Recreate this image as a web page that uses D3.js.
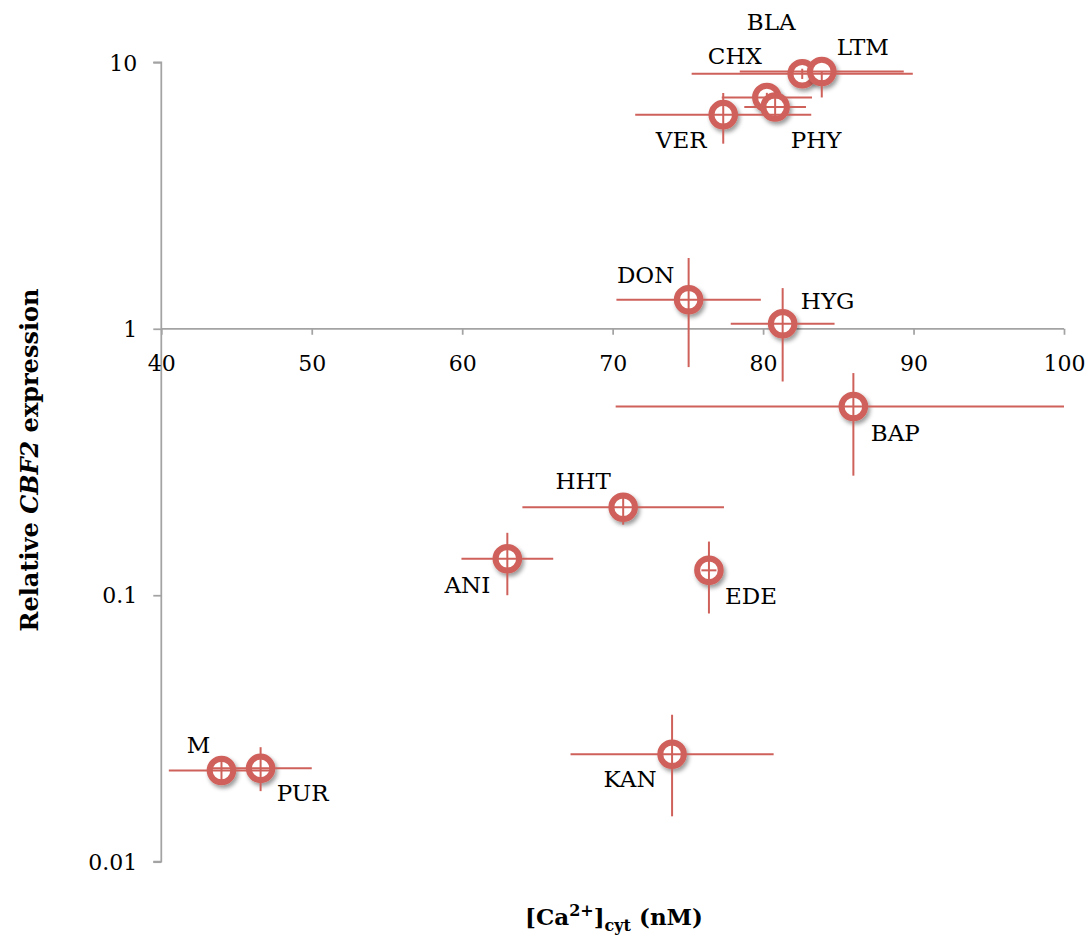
<!DOCTYPE html>
<html>
<head>
<meta charset="utf-8">
<script src="https://cdn.jsdelivr.net/npm/d3@7/dist/d3.min.js"></script>
<style>
  html, body { margin: 0; padding: 0; background: #fff; }
  svg { display: block; }
  text { font-family: "DejaVu Serif", "Liberation Serif", serif; fill: #000; }
</style>
</head>
<body>
<svg id="chart" width="1090" height="938"></svg>
<script>
// Treatments and their measurements
const treatments = ["M", "PUR", "KAN", "ANI", "HHT", "EDE", "BAP", "DON", "HYG", "VER", "CHX", "PHY", "BLA", "LTM"];
// cytosolic calcium (nM) and its error
const calcium    = [44.0, 46.6, 73.95, 63.0, 70.7, 76.4, 86.0, 75.05, 81.3, 77.35, 80.25, 80.8, 82.6, 83.9];
const calciumErr = [3.5, 3.4, 6.75, 3.05, 6.7, 0.5, 15.8, 4.8, 3.45, 5.85, 3.0, 2.05, 7.35, 5.45];
// relative CBF2 expression and its error (upper / lower)
const expression       = [0.0220, 0.0224, 0.0253, 0.137, 0.214, 0.124, 0.511, 1.285, 1.044, 6.36, 7.38, 6.80, 9.06, 9.24];
const expressionErrUp  = [0.002, 0.0045, 0.0103, 0.0345, 0.025, 0.035, 0.171, 0.558, 0.377, 1.31, 0.3, 0.54, 0.4, 0];
const expressionErrLow = [0.002, 0.004, 0.0105, 0.037, 0.03, 0.0386, 0.230, 0.567, 0.41, 1.41, 0.3, 0.54, 0.4, 1.86];

// axis ticks
const xTicks = [40, 50, 60, 70, 80, 90, 100];
const yTicks = [0.01, 0.1, 1, 10];
const yTickLabels = ["0.01", "0.1", "1", "10"];

// label placement relative to each point (px)
const labelOffsets = {
  M: [-23, -26], PUR: [42, 25], KAN: [-42, 25], ANI: [-40, 26], HHT: [-40, -26],
  EDE: [42, 26], BAP: [42, 26], DON: [-43, -25], HYG: [45, -23], VER: [-42, 25],
  CHX: [-32, -42], PHY: [41, 33], BLA: [-31, -52], LTM: [41, -24]
};

const points = treatments.map((t, i) => ({
  name: t,
  x: calcium[i], xe: calciumErr[i],
  y: expression[i], yUp: expressionErrUp[i], yLow: expressionErrLow[i]
}));

const svg = d3.select("#chart");
const plotLeft = 161.3, plotRight = 1064, plotTop = 62.3, plotBottom = 861.7;

const x = d3.scaleLinear().domain([40, 100]).range([plotLeft, plotRight]);
const y = d3.scaleLog().domain([0.01, 10]).range([plotBottom, plotTop]);

const axisColor = "#a3a3a3";
const markColor = "#cf615b";

// drop shadow for the markers
const defs = svg.append("defs");
const f = defs.append("filter").attr("id", "shadow")
  .attr("x", "-50%").attr("y", "-50%").attr("width", "200%").attr("height", "200%");
f.append("feDropShadow").attr("dx", 2).attr("dy", 3).attr("stdDeviation", 2.2)
  .attr("flood-color", "#000").attr("flood-opacity", 0.4);

// y axis
const yAxis = svg.append("g").attr("transform", `translate(${plotLeft},0)`)
  .call(d3.axisLeft(y).tickValues(yTicks).tickSize(8)
    .tickFormat((d, i) => yTickLabels[i]));
yAxis.select(".domain").attr("stroke", axisColor).attr("stroke-width", 1.75)
  .attr("d", `M-8,${plotTop}H0V${plotBottom}H-8`);
yAxis.selectAll(".tick line").attr("stroke", axisColor).attr("stroke-width", 1.75);
yAxis.selectAll(".tick text").attr("x", -24).attr("dy", "0.35em")
  .style("font-family", "DejaVu Serif, serif").style("font-size", "22px").attr("fill", "#000");

// x axis crossing at expression = 1
const xAxis = svg.append("g").attr("transform", `translate(0,${y(1)})`)
  .call(d3.axisBottom(x).tickValues(xTicks).tickSize(6).tickFormat(d3.format("d")));
xAxis.select(".domain").attr("stroke", axisColor).attr("stroke-width", 1.75)
  .attr("d", `M${plotLeft},0H${plotRight}`);
xAxis.selectAll(".tick line").attr("stroke", axisColor).attr("stroke-width", 1.75);
xAxis.selectAll(".tick text").attr("y", 35).attr("dy", "0.35em")
  .style("font-family", "DejaVu Serif, serif").style("font-size", "22px").attr("fill", "#000");

// markers
const g = svg.append("g");
g.selectAll("circle").data(points).join("circle")
  .attr("cx", d => x(d.x)).attr("cy", d => y(d.y)).attr("r", 11.8)
  .attr("fill", "#fff").attr("stroke", markColor).attr("stroke-width", 6)
  .attr("filter", "url(#shadow)");

// error bars
const eb = svg.append("g").attr("stroke", markColor).attr("stroke-width", 2).attr("fill", "none");
eb.selectAll("line.h").data(points).join("line").attr("class", "h")
  .attr("x1", d => x(Math.max(40, d.x - d.xe))).attr("x2", d => x(Math.min(100, d.x + d.xe)))
  .attr("y1", d => y(d.y)).attr("y2", d => y(d.y));
eb.selectAll("line.v").data(points).join("line").attr("class", "v")
  .attr("x1", d => x(d.x)).attr("x2", d => x(d.x))
  .attr("y1", d => y(d.y + d.yUp)).attr("y2", d => y(d.y - d.yLow));

// point labels
svg.append("g").selectAll("text").data(points).join("text")
  .attr("x", d => x(d.x) + labelOffsets[d.name][0])
  .attr("y", d => y(d.y) + labelOffsets[d.name][1])
  .attr("text-anchor", "middle").attr("dy", "0.35em")
  .style("font-size", "23px")
  .text(d => d.name);

// axis titles
const yt = svg.append("text")
  .attr("transform", `translate(38,460) rotate(-90)`)
  .attr("text-anchor", "middle")
  .style("font-size", "24px").style("font-weight", "bold");
yt.append("tspan").text("Relative ");
yt.append("tspan").style("font-style", "italic").text("CBF2");
yt.append("tspan").text(" expression");

const xt = svg.append("text")
  .attr("x", 614).attr("y", 925)
  .attr("text-anchor", "middle")
  .style("font-size", "23px").style("font-weight", "bold");
xt.append("tspan").text("[Ca");
xt.append("tspan").attr("dy", -9).style("font-size", "16px").text("2+");
xt.append("tspan").attr("dy", 9).text("]");
xt.append("tspan").attr("dy", 6).style("font-size", "16px").text("cyt");
xt.append("tspan").attr("dy", -6).text(" (nM)");
</script>
</body>
</html>
